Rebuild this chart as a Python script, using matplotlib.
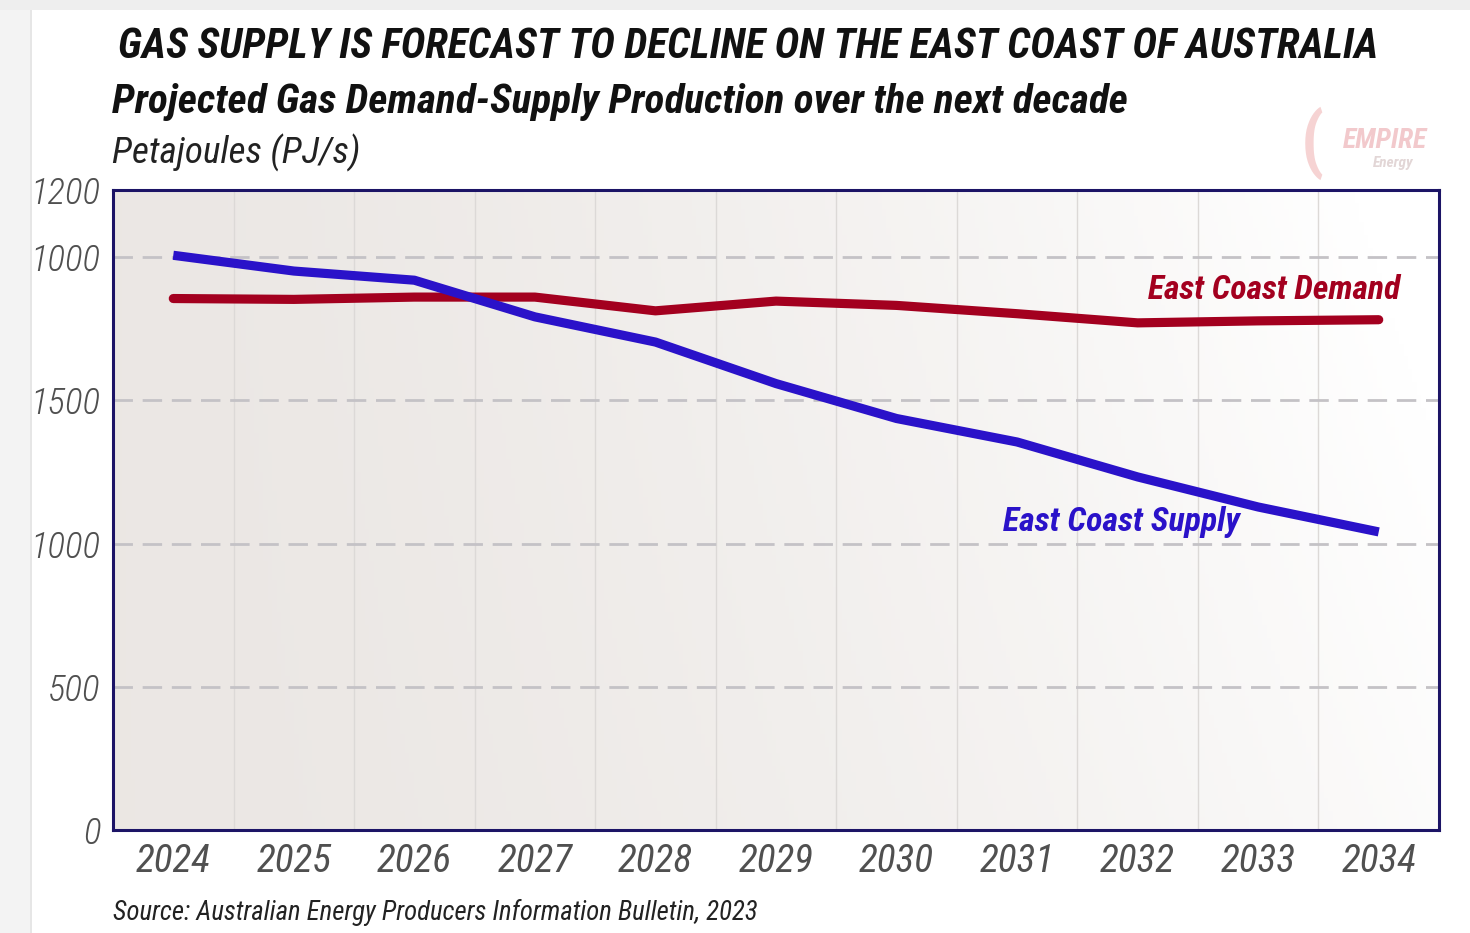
import numpy as np
import matplotlib
matplotlib.use("Agg")
import matplotlib.pyplot as plt
from matplotlib.patches import Rectangle
from matplotlib import font_manager as fm

# ---- data ----
years = [2024, 2025, 2026, 2027, 2028, 2029, 2030, 2031, 2032, 2033, 2034]
supply = [2007, 1952, 1920, 1792, 1704, 1559, 1437, 1355, 1233, 1128, 1041]
demand = [1856, 1853, 1861, 1861, 1813, 1847, 1832, 1803, 1771, 1778, 1782]
ytick_values = [0, 500, 1000, 1500, 2000, 2235]
ytick_labels = ["0", "500", "1000", "1500", "1000", "1200"]
xtick_labels = [str(y) for y in years]

title = "GAS SUPPLY IS FORECAST TO DECLINE ON THE EAST COAST OF AUSTRALIA"
subtitle = "Projected Gas Demand-Supply Production over the next decade"
unit_label = "Petajoules (PJ/s)"
source = "Source: Australian Energy Producers Information Bulletin, 2023"
demand_label = "East Coast Demand"
supply_label = "East Coast Supply"

available = {f.name for f in fm.fontManager.ttflist}
COND = [f for f in ["Roboto Condensed", "Archivo Narrow", "DejaVu Sans"] if f in available]
if "DejaVu Sans" not in COND:
    COND.append("DejaVu Sans")

RED = "#a3001f"
BLUE = "#2a12c9"
NAVY = "#1c1466"

W, H = 1470, 933
fig = plt.figure(figsize=(W / 100, H / 100), dpi=100)
fig.patch.set_facecolor("white")
renderer = fig.canvas.get_renderer()


def fit(t, target_w):
    w = t.get_window_extent(renderer=renderer).width
    if w > 0:
        t.set_fontsize(t.get_fontsize() * target_w / w)
    return t


# left & top page shading
fig.add_artist(Rectangle((0, 0), 30 / W, 1, transform=fig.transFigure,
                         facecolor="#f3f3f3", edgecolor="none", zorder=0))
fig.add_artist(Rectangle((30 / W, 0), 1.5 / W, 1 - 10 / H, transform=fig.transFigure,
                         facecolor="#e6e6e6", edgecolor="none", zorder=0))
fig.add_artist(Rectangle((0, 1 - 10 / H), 1, 10 / H, transform=fig.transFigure,
                         facecolor="#eeeeee", edgecolor="none", zorder=0))

ax = fig.add_axes([113 / W, (H - 830) / H, 1326 / W, 640 / H])

# gradient background
nx, ny = 300, 100
gx = np.linspace(0, 1, nx)[None, :]
gy = np.linspace(0, 1, ny)[:, None]
t = np.clip(0.85 * gx ** 1.6 + 0.25 * (gx * (1 - gy)), 0, 1)
c0 = np.array([0.922, 0.906, 0.894])
c1 = np.array([1.0, 1.0, 1.0])
img = c0[None, None, :] * (1 - t[..., None]) + c1[None, None, :] * t[..., None]
ax.imshow(img, extent=[0, 1, 0, 1], transform=ax.transAxes, aspect="auto",
          zorder=0, origin="upper")

ax.set_xlim(years[0] - 0.5, years[-1] + 0.5)
ax.set_ylim(0, ytick_values[-1])

# grid lines
for xv in np.arange(years[0] + 0.5, years[-1], 1.0):
    ax.axvline(xv, color="#dcd9d7", lw=1.0, zorder=1)
for yv in ytick_values[1:-1]:
    ax.axhline(yv, color="#c4c2c6", lw=2.0, ls=(0, (7, 3.5)), zorder=1)

ax.plot(years, demand, color=RED, lw=6.6, solid_capstyle="round",
        solid_joinstyle="round", zorder=3)
ax.plot(years, supply, color=BLUE, lw=6.6, solid_capstyle="butt",
        solid_joinstyle="round", zorder=4)

for s in ax.spines.values():
    s.set_color(NAVY)
    s.set_linewidth(2.2)
    s.set_zorder(6)

ax.set_xticks(years)
ax.set_xticklabels(xtick_labels, family=COND, style="italic", fontsize=29,
                   color="#505050", fontweight=400)
ax.set_yticks(ytick_values)
ax.set_yticklabels(ytick_labels, family=COND, style="italic", fontsize=27,
                   color="#505050", fontweight=300)
ax.tick_params(axis="both", length=0)
ax.tick_params(axis="x", pad=9)
ax.tick_params(axis="y", pad=9)

# size tick labels to the reference widths
fig.canvas.draw()
xl = ax.get_xticklabels()
sx = 75 / xl[0].get_window_extent(renderer=renderer).width
for lab in xl:
    lab.set_fontsize(lab.get_fontsize() * sx)
yl = ax.get_yticklabels()
sy = 70 / yl[-1].get_window_extent(renderer=renderer).width
for lab in yl:
    lab.set_fontsize(lab.get_fontsize() * sy)


def ftext(x_px, y_px, s, target_w, **kw):
    tt = fig.text(x_px / W, 1 - y_px / H, s, va="center", ha="left", **kw)
    return fit(tt, target_w)


ftext(118, 46, title, 1260, family=COND, fontweight="bold", style="italic",
      fontsize=30, color="#111111")
ftext(112, 102, subtitle, 1015, family=COND, fontweight="bold", style="italic",
      fontsize=27, color="#111111")
ftext(112, 153, unit_label, 248, family=COND, style="italic", fontsize=27,
      color="#222222")
ftext(113, 912, source, 644, family=COND, style="italic", fontsize=18,
      color="#222222")
ftext(1148, 290, demand_label, 252, family=COND, fontweight="bold",
      style="italic", fontsize=22, color=RED, zorder=7)
ftext(1003, 522, supply_label, 237, family=COND, fontweight="bold",
      style="italic", fontsize=22, color=BLUE, zorder=7)

# faded logo watermark
fig.text(1385 / W, 1 - 140 / H, "EMPIRE", family=COND, fontweight="bold",
         style="italic", fontsize=20, color="#f2c9cc", va="center", ha="center")
fig.text(1393 / W, 1 - 163 / H, "Energy", family=COND, fontweight="bold",
         style="italic", fontsize=11, color="#e2d6d6", va="center", ha="center")
fig.text(1312 / W, 1 - 143 / H, "(", family=COND, fontweight="bold",
         fontsize=52, color="#f6d3d3", va="center", ha="center")

fig.savefig("out.png", dpi=100, facecolor=fig.get_facecolor())
